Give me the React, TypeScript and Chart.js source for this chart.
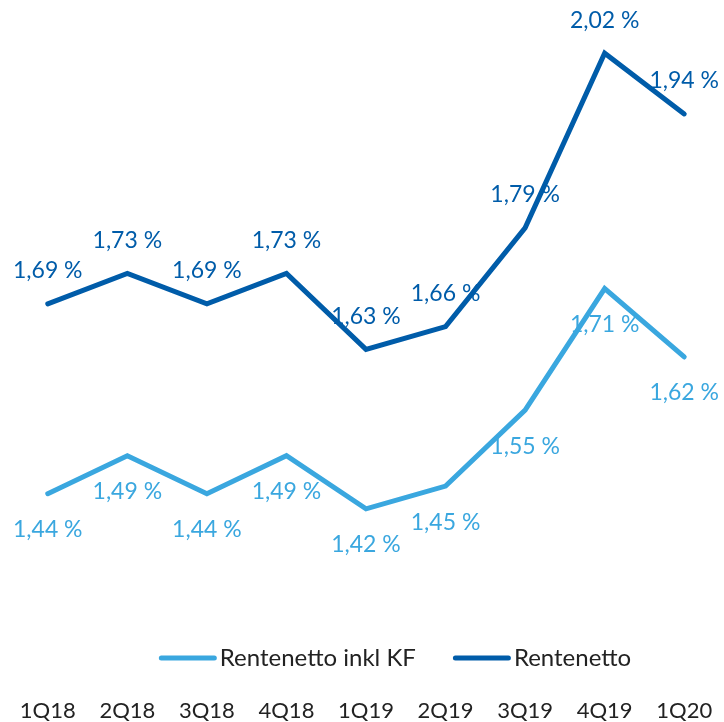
import React, { useEffect, useRef } from "react";
import { Chart, registerables } from "chart.js";

Chart.register(...registerables);

const categories = ["1Q18", "2Q18", "3Q18", "4Q18", "1Q19", "2Q19", "3Q19", "4Q19", "1Q20"];
const rentenettoInklKF = [1.44, 1.49, 1.44, 1.49, 1.42, 1.45, 1.55, 1.71, 1.62];
const rentenetto = [1.69, 1.73, 1.69, 1.73, 1.63, 1.66, 1.79, 2.02, 1.94];
const seriesNames = ["Rentenetto inkl KF", "Rentenetto"];
const yMin = 1.25;
const yMax = 2.09;

const FONT = "Lato, 'Open Sans', sans-serif";
const LIGHT = "#3AA7DF";
const DARK = "#005CA9";
const TEXT = "#222222";

const fmt = (v: number) => v.toFixed(2).replace(".", ",") + " %";

const labelOffsets = [36, -33];

const dataLabelPlugin = {
  id: "dataLabels",
  afterDatasetsDraw(chart: any) {
    const ctx = chart.ctx;
    ctx.save();
    ctx.font = `23px ${FONT}`;
    ctx.textAlign = "center";
    ctx.textBaseline = "middle";
    chart.data.datasets.forEach((ds: any, i: number) => {
      const meta = chart.getDatasetMeta(i);
      ctx.fillStyle = ds.borderColor;
      meta.data.forEach((pt: any, j: number) => {
        ctx.fillText(fmt(ds.data[j]), pt.x, pt.y + labelOffsets[i]);
      });
    });
    ctx.restore();
  },
};

const legendPlugin = {
  id: "bottomLegend",
  afterDraw(chart: any) {
    const ctx = chart.ctx;
    const area = chart.chartArea;
    ctx.save();
    ctx.font = `24px ${FONT}`;
    const lineLen = 53;
    const cap = 2.5;
    const gapText = 3;
    const gapItem = 37;
    const items = chart.data.datasets.map((ds: any) => ({
      label: ds.label,
      color: ds.borderColor,
      w: ctx.measureText(ds.label).width,
    }));
    const total = items.reduce(
      (s: number, it: any, i: number) => s + cap * 2 + lineLen + gapText + it.w + (i ? gapItem : 0),
      0
    );
    const center = (area.left + area.right) / 2 + 29;
    let x = center - total / 2;
    const y = area.bottom + 20;
    items.forEach((it: any, i: number) => {
      if (i) x += gapItem;
      ctx.strokeStyle = it.color;
      ctx.lineWidth = 5;
      ctx.lineCap = "round";
      ctx.beginPath();
      ctx.moveTo(x + cap, y);
      ctx.lineTo(x + cap + lineLen, y);
      ctx.stroke();
      x += cap * 2 + lineLen + gapText;
      ctx.fillStyle = TEXT;
      ctx.textAlign = "left";
      ctx.textBaseline = "middle";
      ctx.fillText(it.label, x, y);
      x += it.w;
    });
    ctx.restore();
  },
};

export default function App() {
  const ref = useRef<HTMLCanvasElement>(null);

  useEffect(() => {
    document.body.style.margin = "0";
    const canvas = ref.current;
    if (!canvas) return;
    const chart = new Chart(canvas, {
      type: "line",
      data: {
        labels: categories,
        datasets: [
          {
            label: seriesNames[0],
            data: rentenettoInklKF,
            borderColor: LIGHT,
            backgroundColor: LIGHT,
            borderWidth: 5,
            borderCapStyle: "round",
            borderJoinStyle: "miter",
            pointRadius: 0,
            tension: 0,
          },
          {
            label: seriesNames[1],
            data: rentenetto,
            borderColor: DARK,
            backgroundColor: DARK,
            borderWidth: 5,
            borderCapStyle: "round",
            borderJoinStyle: "miter",
            pointRadius: 0,
            tension: 0,
          },
        ],
      },
      options: {
        responsive: false,
        animation: false,
        devicePixelRatio: 1,
        layout: { padding: { left: 8, right: 0, top: 0, bottom: 0 } },
        plugins: {
          legend: { display: false },
          tooltip: { enabled: false },
        },
        scales: {
          x: {
            offset: true,
            grid: { display: false, drawTicks: false },
            border: { display: false },
            ticks: {
              color: TEXT,
              padding: 60,
              font: { family: FONT, size: 22 },
              maxRotation: 0,
              autoSkip: false,
            },
            afterFit(scale: any) {
              scale.height = 84;
              scale.paddingLeft = 0;
              scale.paddingRight = 0;
            },
          },
          y: {
            display: false,
            min: yMin,
            max: yMax,
          },
        },
      },
      plugins: [dataLabelPlugin, legendPlugin],
    });
    return () => chart.destroy();
  }, []);

  return (
    <div style={{ width: 724, height: 722 }}>
      <canvas ref={ref} width={724} height={722} style={{ display: "block" }} />
    </div>
  );
}
